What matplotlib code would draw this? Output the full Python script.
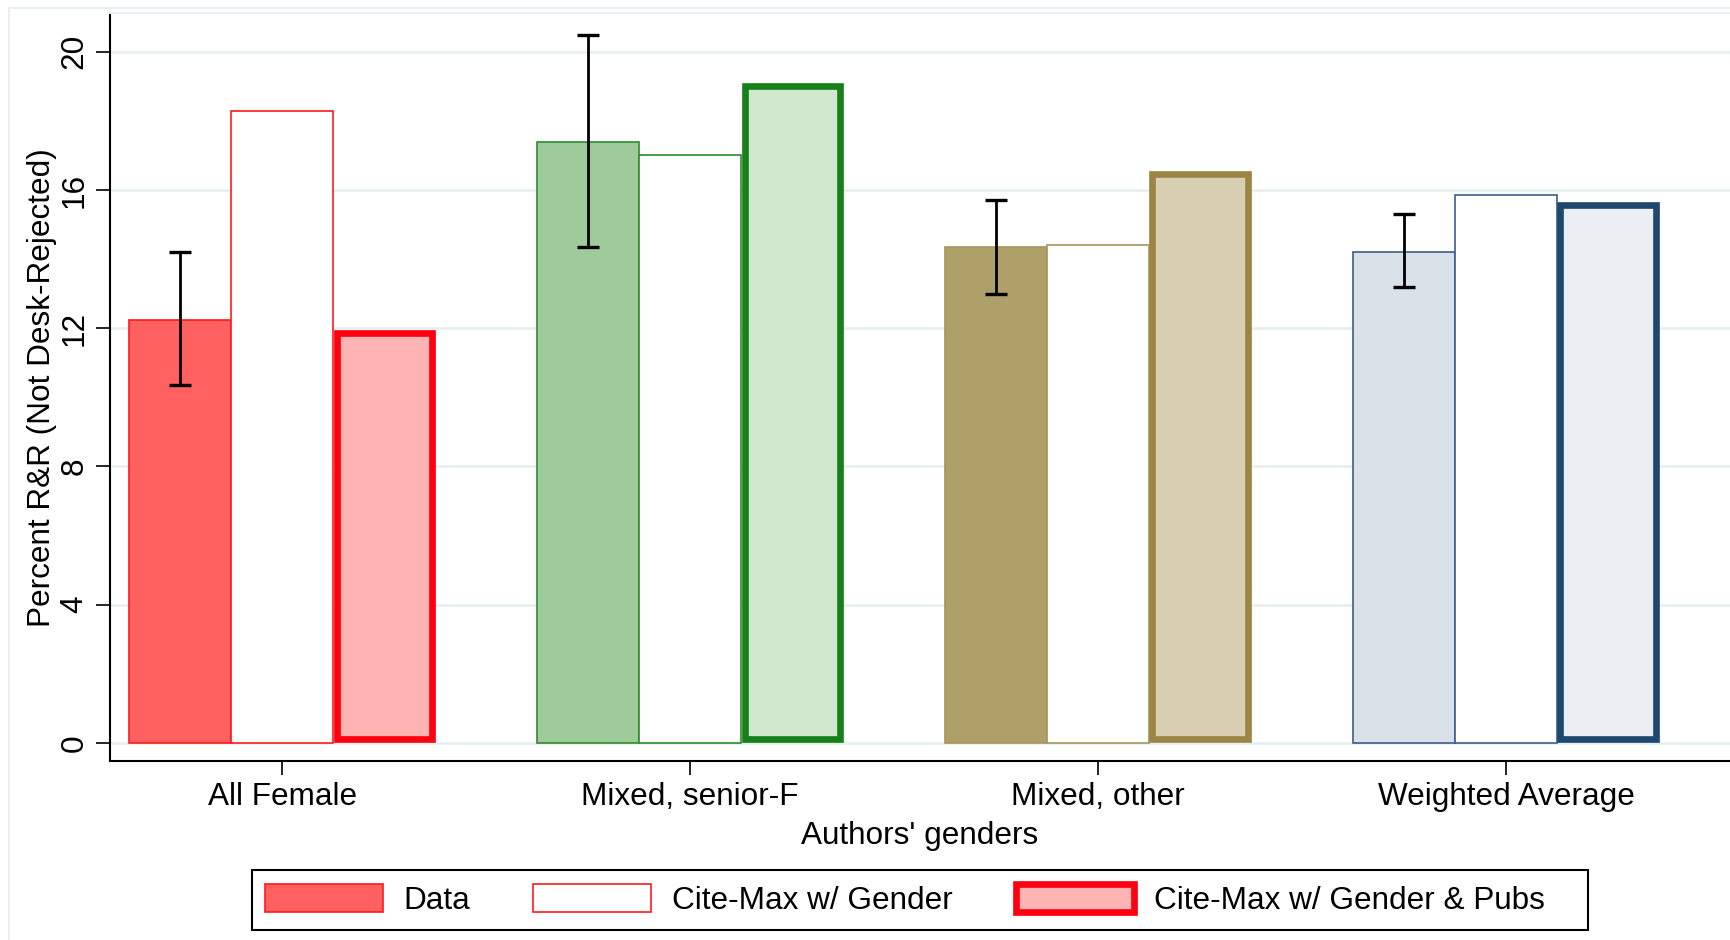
import numpy as np
import matplotlib
matplotlib.use("Agg")
import matplotlib.pyplot as plt
from matplotlib.patches import Patch, Rectangle

plt.rcParams['font.family'] = ['Liberation Sans', 'DejaVu Sans']

groups = ["All Female", "Mixed, senior-F", "Mixed, other", "Weighted Average"]
data_vals = [12.25, 17.4, 14.35, 14.2]
ci_low = [10.35, 14.35, 13.0, 13.2]
ci_high = [14.2, 20.5, 15.72, 15.32]
cite_gender = [18.3, 17.0, 14.4, 15.85]
cite_pubs = [11.95, 19.1, 16.55, 15.65]
series_names = ["Data", "Cite-Max w/ Gender", "Cite-Max w/ Gender & Pubs"]

# per group: data fill, thin edge, pubs fill, thick edge
fill_data = ["#ff6161", "#9fcb9b", "#af9f69", "#dbe1e8"]
edge_thin = ["#ff1a1a", "#2e8b2e", "#a6965a", "#3a5f8a"]
fill_pubs = ["#ffb3b3", "#d0e6cd", "#d8cfb3", "#ebeef2"]
edge_thick = ["#ff0010", "#16801a", "#9a8545", "#1f4870"]

FS = 22.7
thick = 4.8

fig = plt.figure(figsize=(17.3, 9.4), dpi=100)
fig.patches.append(Rectangle((0.005, -0.01), 1.0, 1.002, transform=fig.transFigure,
                             facecolor="none", edgecolor="#e8eef1", lw=1.5))
ax_pos = [0.0637, 0.190, 0.9363, 0.796]
ax = fig.add_axes(ax_pos)
xlim = (-0.422, 3.549)
ylim = (-0.54, 21.12)
ax.set_xlim(*xlim)
ax.set_ylim(*ylim)

x = np.arange(len(groups))
w = 0.25
ax.bar(x - w, data_vals, w, color=fill_data, edgecolor=edge_thin, linewidth=1.2, zorder=3)
ax.bar(x, cite_gender, w, color="white", edgecolor=edge_thin, linewidth=1.2, zorder=3)

# thick outline drawn inside the bar, like Stata does
half_px = thick / 72 * fig.dpi / 2
dx = half_px / (ax_pos[2] * fig.bbox.width / (xlim[1] - xlim[0]))
dy = half_px / (ax_pos[3] * fig.bbox.height / (ylim[1] - ylim[0]))
pubs = np.array(cite_pubs)
ax.bar(x + w, pubs - 2 * dy, w - 2 * dx, bottom=dy, color=fill_pubs,
       edgecolor=edge_thick, linewidth=thick, zorder=3)

yerr = [np.array(data_vals) - np.array(ci_low), np.array(ci_high) - np.array(data_vals)]
ax.errorbar(x - w, data_vals, yerr=yerr, fmt="none", ecolor="black", elinewidth=2.0,
            capsize=8, capthick=2.4, zorder=4)

ax.set_yticks([0, 4, 8, 12, 16, 20])
ax.set_xticks(x)
ax.set_xticklabels(groups)
ax.tick_params(axis="both", labelsize=FS, length=10, width=1.2, pad=5)
for lab in ax.get_yticklabels():
    lab.set_rotation(90)
    lab.set_va("center")
ax.yaxis.grid(True, color="#e6eef0", lw=1.8, zorder=0)
ax.set_axisbelow(True)

ax.spines["right"].set_visible(False)
ax.spines["top"].set_color("#e6eef0")
ax.spines["top"].set_linewidth(1.5)
ax.spines["left"].set_linewidth(1.5)
ax.spines["bottom"].set_linewidth(1.5)

ax.set_ylabel("Percent R&R (Not Desk-Rejected)", fontsize=FS, labelpad=2)
ax.set_xlabel("Authors' genders", fontsize=FS, labelpad=6)

handles = [
    Patch(facecolor=fill_data[0], edgecolor=edge_thin[0], linewidth=1.2),
    Patch(facecolor="white", edgecolor=edge_thin[0], linewidth=1.2),
    Patch(facecolor=fill_pubs[0], edgecolor=edge_thick[0], linewidth=thick),
]
fig.legend(handles, series_names, loc="center left", bbox_to_anchor=(0.153, 0.043),
           ncol=3, fontsize=FS, frameon=False, handlelength=3.75,
           handleheight=1.0, handletextpad=0.65, columnspacing=2.0,
           borderpad=0, borderaxespad=0)
# legend box, wider on the right as in the original
fig.patches.append(Rectangle((0.1454, 0.0107), 0.7728, 0.0634, transform=fig.transFigure,
                             facecolor="none", edgecolor="black", lw=1.5))

fig.savefig("out.png", dpi=100, facecolor="white")
